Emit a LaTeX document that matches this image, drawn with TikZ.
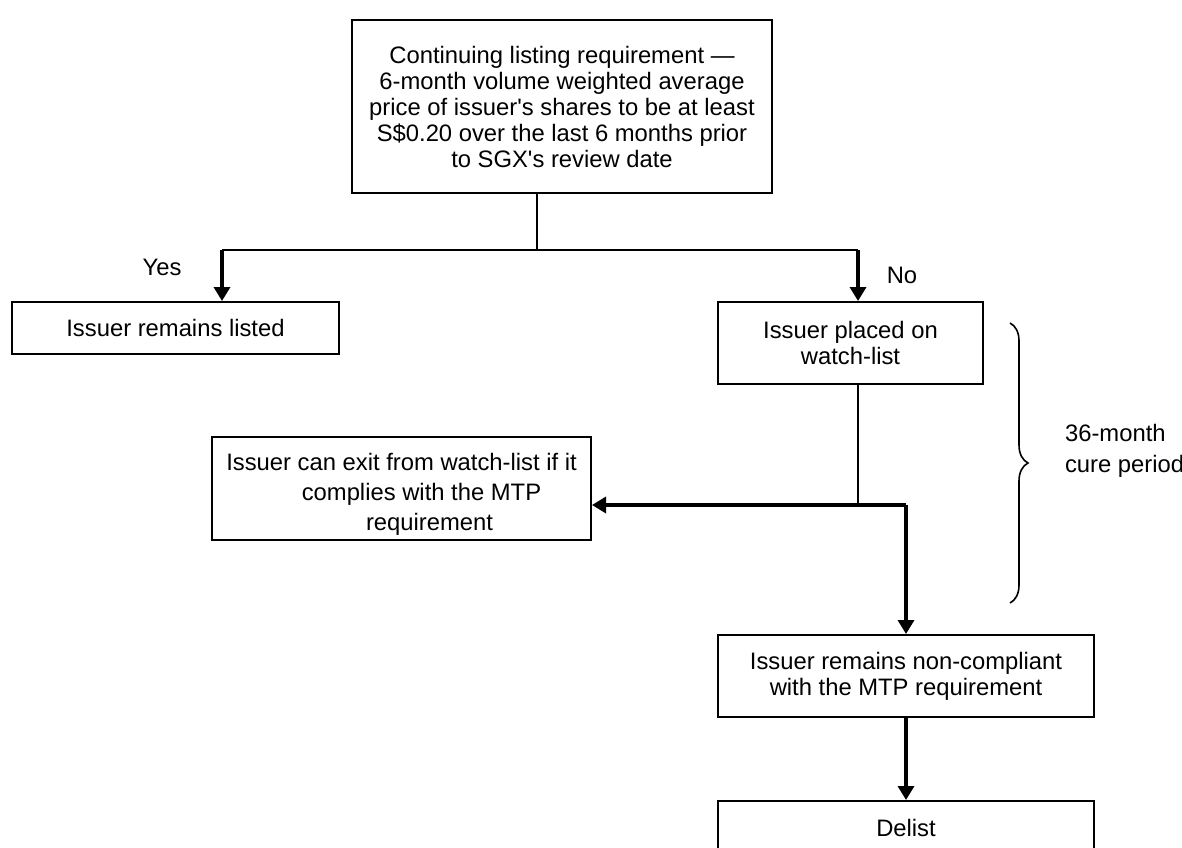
\documentclass[tikz,border=0pt]{standalone}
\usepackage{fontspec}
\setmainfont{Liberation Sans}
\usetikzlibrary{arrows.meta,decorations.pathreplacing,calc}

\begin{document}
\begin{tikzpicture}[x=0.5pt,y=-0.5pt,
    box/.style={draw,line width=1pt,inner sep=2pt,align=center,font=\fontsize{11.9}{13}\selectfont},
    link/.style={line width=0.8pt},
    flow/.style={line width=1.7pt,-{Triangle[width=8pt,length=7pt]}},
    note/.style={font=\fontsize{11.9}{13}\selectfont}]
    \useasboundingbox (0,0) rectangle (1182,847);
    % boxes
    \node[box,minimum width=210pt,minimum height=86.5pt] (req) at (562,106.5)
      {Continuing listing requirement ---\\6-month volume weighted average\\price of issuer\textquotesingle s shares to be at least\\S\$0.20 over the last 6 months prior\\to SGX\textquotesingle s review date};
    \node[box,minimum width=163.5pt,minimum height=26pt] (listed) at (175.5,328) {Issuer remains listed};
    \node[box,minimum width=132.5pt,minimum height=41pt] (watch) at (850.5,343) {Issuer placed on\\watch-list};
    \node[box,minimum width=189.5pt,minimum height=51.5pt,font=\fontsize{11.9}{15}\selectfont] (exit) at (401.5,488.5)
      {\rule{0pt}{14.5pt}Issuer can exit from watch-list if it\\\hspace*{20pt}complies with the MTP\\\hspace*{28pt}requirement};
    \node[box,minimum width=188pt,minimum height=41pt] (noncomp) at (906,676) {Issuer remains non-compliant\\with the MTP requirement};
    \node[box,minimum width=188pt,minimum height=27pt] (delist) at (906,828) {Delist};
    % branch points
    \coordinate (split) at (537,250);
    \coordinate (yesturn) at (222,250);
    \coordinate (noturn) at (858,250);
    \coordinate (fork) at (858,505);
    \coordinate (drop) at (906,505);
    % connectors
    \draw[link] (split |- req.south) -- (split);
    \draw[link] (yesturn) -- (noturn);
    \draw[flow] (yesturn) -- (yesturn |- listed.north);
    \draw[flow] (noturn) -- (noturn |- watch.north);
    \draw[link] (fork |- watch.south) -- (fork);
    \draw[line width=1.7pt] (fork) -- (drop);
    \draw[flow] (drop) -- (drop -| exit.east);
    \draw[flow] (drop) -- (noncomp.north);
    \draw[flow] (noncomp) -- (delist);
    % labels
    \node[note] (yes) at (162,267) {Yes};
    \node[note] (no) at (902,275) {No};
    \draw[link,decorate,decoration={brace,amplitude=9pt}] (1010,323) -- (1010,603);
    \node[note,anchor=west,align=left,font=\fontsize{11.9}{15.5}\selectfont] (cure) at (1058,451) {36-month\\cure period};
\end{tikzpicture}
\end{document}
